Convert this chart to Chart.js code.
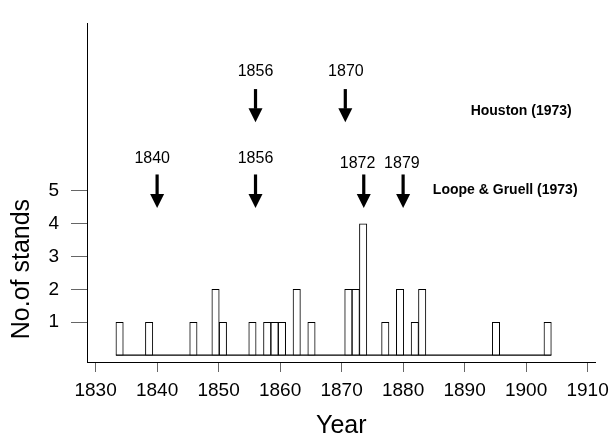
<!DOCTYPE html>
<html><head><meta charset="utf-8">
<script src="https://cdn.jsdelivr.net/npm/chart.js@4"></script>
<style>html,body{margin:0;padding:0;background:#fff}#wrap{width:616px;height:439px}</style>
</head><body><div id="wrap"><canvas id="c" width="616" height="439"></canvas></div>
<script>
// ---- data ----
const binStart = 1833.3;   // left edge of first histogram bin (year)
const binWidth = 1.2;      // bin width (years)
const counts = [
  1,0,0,0,1,0,0,0,0,0,
  1,0,0,2,1,0,0,0,1,0,
  1,1,1,0,2,0,1,0,0,0,
  0,2,2,4,0,0,1,0,2,0,
  1,2,0,0,0,0,0,0,0,0,
  0,1,0,0,0,0,0,0,1
];
const xTickYears = [1830,1840,1850,1860,1870,1880,1890,1900,1910];
const yTickValues = [1,2,3,4,5];
const houstonLabels = ['1856','1870'];
const houstonArrowAt = [1856, 1870.6];
const houstonLabelAt = [1856, 1870.7];
const loopeLabels = ['1840','1856','1872','1879'];
const loopeArrowAt = [1840, 1856, 1873.6, 1880];
const loopeLabelAt = [1839.2, 1856, 1872.6, 1879.8];
const sourceNames = ['Houston (1973)', 'Loope & Gruell (1973)'];
const xTitle = 'Year';
const yTitle = 'No.of stands';

// ---- build ----
const FAM = '"Liberation Sans", Arial, Helvetica, sans-serif';
const bars = [];
counts.forEach((c, k) => { if (c > 0) bars.push({x: binStart + (k + 0.5) * binWidth, y: c}); });
const baseline = [{x: binStart, y: 0}, {x: binStart + counts.length * binWidth, y: 0}];

function arrow(ctx, xp, yTop, yTip, shaftW, headW, headH) {
  ctx.fillStyle = '#000';
  ctx.fillRect(xp - shaftW / 2, yTop, shaftW, (yTip - headH) - yTop + 0.5);
  ctx.beginPath();
  ctx.moveTo(xp - headW / 2, yTip - headH);
  ctx.lineTo(xp + headW / 2, yTip - headH);
  ctx.lineTo(xp, yTip);
  ctx.closePath();
  ctx.fill();
}

const annot = {
  id: 'annot',
  afterDraw(chart) {
    const {ctx, scales: {x, y}} = chart;
    ctx.save();
    ctx.fillStyle = '#000';
    // y axis title
    ctx.save();
    ctx.font = '25px ' + FAM;
    ctx.textAlign = 'center';
    ctx.textBaseline = 'middle';
    ctx.translate(22, y.getPixelForValue(2.62));
    ctx.rotate(-Math.PI / 2);
    ctx.fillText(yTitle, 0, 0);
    ctx.restore();
    // annotation rows
    ctx.font = '16px ' + FAM;
    ctx.textAlign = 'center';
    ctx.textBaseline = 'middle';
    houstonLabels.forEach((t, i) => {
      ctx.fillText(t, x.getPixelForValue(houstonLabelAt[i]), y.getPixelForValue(8.64));
      arrow(ctx, x.getPixelForValue(houstonArrowAt[i]), y.getPixelForValue(8.10), y.getPixelForValue(7.09), 3.2, 14, 14);
    });
    loopeLabels.forEach((t, i) => {
      const ly = i < 2 ? 5.98 : 5.82;
      ctx.fillText(t, x.getPixelForValue(loopeLabelAt[i]), y.getPixelForValue(ly));
      arrow(ctx, x.getPixelForValue(loopeArrowAt[i]), y.getPixelForValue(5.50), y.getPixelForValue(4.48), 3.2, 14, 14);
    });
    ctx.font = 'bold 14px ' + FAM;
    ctx.fillText(sourceNames[0], x.getPixelForValue(1899.2), y.getPixelForValue(7.43));
    ctx.fillText(sourceNames[1], x.getPixelForValue(1896.6), y.getPixelForValue(5.03));
    ctx.restore();
  }
};

new Chart(document.getElementById('c'), {
  type: 'bar',
  data: {
    datasets: [
      {type: 'line', data: baseline, borderColor: '#000', borderWidth: 1.2, pointRadius: 0, order: 2},
      {type: 'bar', data: bars, backgroundColor: '#fff', borderColor: '#000', borderWidth: 1,
       borderSkipped: false, barPercentage: 1, categoryPercentage: 1, order: 1}
    ]
  },
  options: {
    responsive: false,
    animation: false,
    devicePixelRatio: 1,
    layout: {padding: {top: 12, right: 16, bottom: 0, left: 0}},
    plugins: {legend: {display: false}, tooltip: {enabled: false}},
    scales: {
      x: {
        type: 'linear', min: 1828.6, max: 1911.3, offset: false,
        afterBuildTicks: s => { s.ticks = xTickYears.map(v => ({value: v})); },
        afterFit: s => { s.height = 77; },
        grid: {drawOnChartArea: false, offset: false, tickLength: 10, color: '#666', tickWidth: 1},
        border: {display: true, color: '#000', width: 1},
        ticks: {font: {size: 19, family: FAM}, color: '#000', padding: 7, maxRotation: 0, autoSkip: false,
                callback: v => String(v)},
        title: {display: true, text: xTitle, color: '#000', font: {size: 25, family: FAM, lineHeight: 1},
                padding: {top: 0, bottom: 0}}
      },
      y: {
        min: -0.21, max: 10.1,
        afterBuildTicks: s => { s.ticks = yTickValues.map(v => ({value: v})); },
        afterFit: s => { s.width = 87; },
        grid: {drawOnChartArea: false, tickLength: 16, color: '#666'},
        border: {display: true, color: '#000', width: 1},
        ticks: {font: {size: 19, family: FAM}, color: '#000', padding: 12, callback: v => String(v)}
      }
    }
  },
  plugins: [annot]
});
</script></body></html>
